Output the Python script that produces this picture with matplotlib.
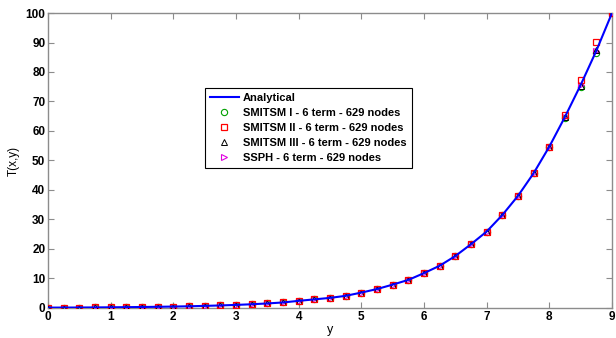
import matplotlib
matplotlib.use("Agg")
import matplotlib.pyplot as plt

y_pts = [0, 0.25, 0.5, 0.75, 1.0, 1.25, 1.5, 1.75, 2.0, 2.25, 2.5, 2.75, 3.0,
         3.25, 3.5, 3.75, 4.0, 4.25, 4.5, 4.75, 5.0, 5.25, 5.5, 5.75, 6.0,
         6.25, 6.5, 6.75, 7.0, 7.25, 7.5, 7.75, 8.0, 8.25, 8.5, 8.75, 9.0]

analytical = [0.10, 0.12, 0.14, 0.17, 0.21, 0.26, 0.31, 0.38, 0.46, 0.56, 0.69,
              0.84, 1.02, 1.24, 1.52, 1.85, 2.4, 2.9, 3.4, 4.1, 5.2, 6.4,
              7.9, 9.5, 11.8, 14.3, 17.6, 21.6, 25.9, 31.5, 38.0, 45.7, 54.7,
              64.8, 75.6, 87.2, 100.0]

smitsm1 = analytical[:33] + [64.5, 75.0, 86.5, 100.0]
smitsm2 = analytical[:33] + [65.5, 77.3, 90.3, 100.0]
smitsm3 = analytical[:33] + [64.8, 75.4, 87.6, 100.0]
ssph = list(analytical)

fig = plt.figure(figsize=(6.16, 3.38), dpi=100)
ax = fig.add_axes([0.078, 0.089, 0.9155, 0.8725])

ax.plot(y_pts, analytical, color="#0000ff", lw=1.5, label="Analytical", zorder=6)
ax.plot(y_pts, smitsm1, ls="none", marker="o", mfc="none", mec="#00a000",
        ms=4.5, mew=0.8, label="SMITSM I - 6 term - 629 nodes", zorder=2)
ax.plot(y_pts, smitsm2, ls="none", marker="s", mfc="none", mec="#ff0000",
        ms=4.5, mew=0.9, label="SMITSM II - 6 term - 629 nodes", zorder=5)
ax.plot(y_pts, smitsm3, ls="none", marker="^", mfc="none", mec="#000000",
        ms=4.5, mew=0.7, label="SMITSM III - 6 term - 629 nodes", zorder=4)
ax.plot(y_pts, ssph, ls="none", marker=">", mfc="none", mec="#e000e0",
        ms=4.5, mew=0.8, label="SSPH - 6 term - 629 nodes", zorder=3)

ax.set_xlim(0, 9)
ax.set_ylim(0, 100)
ax.set_xticks(range(0, 10))
ax.set_yticks(range(0, 101, 10))

for s in ax.spines.values():
    s.set_color("#8c8c8c")
    s.set_linewidth(1.0)
ax.tick_params(direction="in", top=True, right=True, length=4, color="#8c8c8c",
               labelsize=8.5, pad=2)
for lab in ax.get_xticklabels() + ax.get_yticklabels():
    lab.set_fontfamily("Liberation Sans")
    lab.set_fontweight("bold")

ax.set_xlabel("y", fontsize=9, fontfamily="Liberation Sans", labelpad=1)
ax.set_ylabel("T(x,y)", fontsize=8.5, fontfamily="Liberation Sans", labelpad=4)

leg = ax.legend(loc="upper left", bbox_to_anchor=(0.278, 0.746), frameon=True,
                fancybox=False, edgecolor="black", framealpha=1,
                prop={"family": "Liberation Sans", "weight": "bold", "size": 8},
                handlelength=2.6, handletextpad=0.4, borderpad=0.45,
                labelspacing=0.45, borderaxespad=0)
leg.get_frame().set_linewidth(0.8)

fig.savefig("out.png", dpi=100)
